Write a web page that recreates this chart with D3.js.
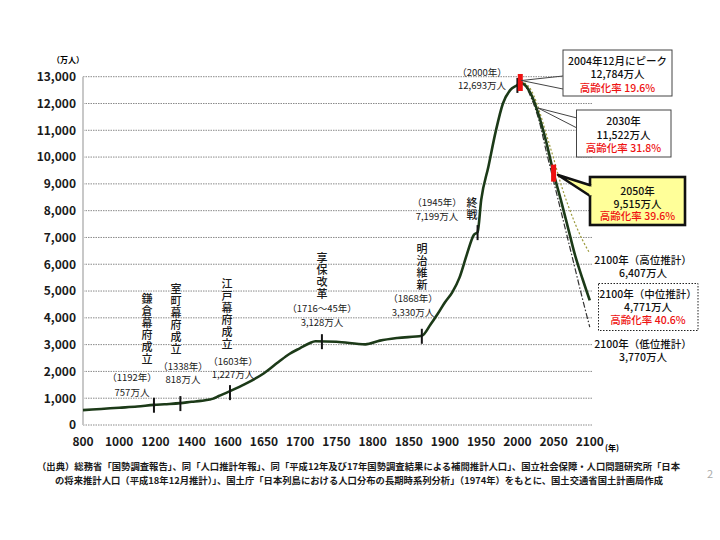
<!DOCTYPE html>
<html lang="ja">
<head>
<meta charset="utf-8">
<title>日本の人口の長期的推移</title>
<script src="https://cdn.jsdelivr.net/npm/d3@7"></script>
<style>
  body { margin: 0; background: #fff; }
  svg { display: block; font-family: "Noto Sans CJK JP", sans-serif; }
</style>
</head>
<body>
<div id="chart"></div>
<script>
// axis ticks (the x axis is compressed before 1600)
var xTickYears = [800, 1000, 1200, 1400, 1600, 1650, 1700, 1750, 1800, 1850, 1900, 1950, 2000, 2050, 2100];
var yTickValues = [0, 1000, 2000, 3000, 4000, 5000, 6000, 7000, 8000, 9000, 10000, 11000, 12000, 13000];

// historical population (万人)
var histYears  = [800, 900, 1000, 1100, 1192, 1250, 1338, 1400, 1450, 1500, 1515, 1550, 1600, 1620, 1650, 1670, 1685, 1700, 1712, 1721, 1750, 1790, 1810, 1834, 1868, 1880, 1890, 1900, 1910, 1920, 1930, 1940, 1945, 1950, 1960, 1970, 1980, 1990, 2000, 2004];
var histValues = [555, 600, 645, 690, 750, 775, 815, 865, 900, 950, 975, 1080, 1227, 1480, 1930, 2350, 2650, 2870, 3040, 3128, 3110, 3010, 3150, 3250, 3330, 3750, 4150, 4580, 4950, 5500, 6350, 7100, 7199, 8400, 9650, 10950, 12000, 12500, 12693, 12784];

// projections
var projYears  = [2004, 2010, 2020, 2030, 2040, 2050, 2060, 2070, 2080, 2090, 2100];
var midValues  = [12784, 12700, 12280, 11522, 10550, 9400, 8400, 7350, 6300, 5450, 4650];
var highValues = [12784, 12760, 12450, 11750, 10850, 9950, 9000, 8200, 7500, 6900, 6407];
var lowValues  = [12784, 12680, 12150, 11350, 10200, 9100, 8000, 6900, 5800, 4700, 3650];

// historical events
var eventYears  = [1192, 1338, 1603, 1730, 1868, 1945, 2000];
var eventValues = [757, 818, 1227, 3128, 3330, 7199, 12693];
var eventNames  = ["鎌倉幕府成立", "室町幕府成立", "江戸幕府成立", "享保改革", "明治維新", "終戦", ""];
var eventYearText = ["（1192年）", "（1338年）", "（1603年）", "（1716～45年）", "（1868年）", "（1945年）", "（2000年）"];
var eventPopText  = ["757万人", "818万人", "1,227万人", "3,128万人", "3,330万人", "7,199万人", "12,693万人"];

var markerYears = [2004, 2050];

var W = 720, H = 540;
var svg = d3.select("#chart").append("svg")
    .attr("width", W).attr("height", H);

var x = d3.scaleLinear()
    .domain(xTickYears)
    .range(xTickYears.map(function(d, i) { return 83 + i * 36.2; }));
var y = d3.scaleLinear().domain([0, 13000]).range([425, 76.7]);

// grid
svg.append("g").selectAll("line")
    .data(yTickValues)
    .enter().append("line")
    .attr("x1", 83).attr("x2", 593)
    .attr("y1", function(d) { return y(d); })
    .attr("y2", function(d) { return y(d); })
    .attr("stroke", "#8a8a8a")
    .attr("stroke-width", 1)
    .attr("stroke-dasharray", "1.5,1");

// left axis line
svg.append("line")
    .attr("x1", 83).attr("x2", 83)
    .attr("y1", y(13000)).attr("y2", y(0))
    .attr("stroke", "#c8c8c8").attr("stroke-width", 2);

// y labels
svg.append("g").selectAll("text")
    .data(yTickValues)
    .enter().append("text")
    .attr("x", 76)
    .attr("y", function(d) { return y(d); })
    .attr("dy", "0.36em")
    .attr("text-anchor", "end")
    .attr("font-size", 12)
    .attr("font-weight", 700)
    .attr("fill", "#1a1a1a")
    .text(function(d) { return d3.format(",")(d); });

svg.append("text").attr("x", 68).attr("y", 63)
    .attr("text-anchor", "middle").attr("font-size", 8).attr("font-weight", 700)
    .text("（万人）");

// x labels
svg.append("g").selectAll("text")
    .data(xTickYears)
    .enter().append("text")
    .attr("x", function(d) { return x(d); })
    .attr("y", 446)
    .attr("text-anchor", "middle")
    .attr("font-size", 12)
    .attr("font-weight", 700)
    .attr("fill", "#1a1a1a")
    .text(function(d) { return d; });

svg.append("text").attr("x", 612).attr("y", 451)
    .attr("text-anchor", "middle").attr("font-size", 8).attr("font-weight", 700)
    .text("(年)");

// lines
var line = d3.line()
    .x(function(d) { return x(d[0]); })
    .y(function(d) { return y(d[1]); })
    .curve(d3.curveMonotoneX);

svg.append("path")
    .datum(projYears.map(function(d, i) { return [d, highValues[i]]; }))
    .attr("d", line).attr("fill", "none")
    .attr("stroke", "#9c9a3c").attr("stroke-width", 1.2)
    .attr("stroke-dasharray", "2,2");

svg.append("path")
    .datum(projYears.map(function(d, i) { return [d, lowValues[i]]; }))
    .attr("d", line).attr("fill", "none")
    .attr("stroke", "#333").attr("stroke-width", 1.2)
    .attr("stroke-dasharray", "6,2,1.5,2");

svg.append("path")
    .datum(histYears.map(function(d, i) { return [d, histValues[i]]; })
        .concat(projYears.slice(1).map(function(d, i) { return [d, midValues[i + 1]]; })))
    .attr("d", line).attr("fill", "none")
    .attr("stroke", "#1c3a18").attr("stroke-width", 2.6);

// event ticks
svg.append("g").selectAll("line")
    .data(eventYears)
    .enter().append("line")
    .attr("x1", function(d) { return x(d); })
    .attr("x2", function(d) { return x(d); })
    .attr("y1", function(d, i) { return y(eventValues[i]) - 7; })
    .attr("y2", function(d, i) { return y(eventValues[i]) + 8; })
    .attr("stroke", "#151515").attr("stroke-width", 2);

// red markers
svg.append("g").selectAll("rect")
    .data(markerYears)
    .enter().append("rect")
    .attr("x", function(d) { return x(d) - 2.5; })
    .attr("y", function(d) { return y(midValues[projYears.indexOf(d)]) - 8.5; })
    .attr("width", 5).attr("height", 17)
    .attr("fill", "#ee1111");

// multi-line text block: one <text>, one <tspan> per line
function textLines(cx, ys, lines, colors, size, weight) {
    var t = svg.append("text")
        .attr("text-anchor", "middle").attr("font-size", size)
        .attr("font-weight", weight || 500);
    lines.forEach(function(s, k) {
        t.append("tspan").attr("x", cx).attr("y", ys[k]).attr("dy", "0.36em")
            .attr("fill", colors[k]).text(s);
    });
}

// event labels (layout picked to match the original slide)
var nameLayout = [[147, 293], [176, 283], [227, 278], [322, 252], [422, 243], [472, 197], null];
var noteLayout = [[132, 378, 393], [183, 367, 380], [233, 362, 375], [322, 309, 323], [413, 299, 313], [437, 203, 217], [482, 73, 86]];

eventNames.forEach(function(name, i) {
    if (nameLayout[i]) {
        // vertical writing, one text per name
        svg.append("text")
            .attr("x", nameLayout[i][0])
            .attr("y", nameLayout[i][1])
            .style("writing-mode", "vertical-rl")
            .style("letter-spacing", "1px")
            .attr("font-size", 11).attr("font-weight", 500)
            .attr("fill", "#1a1a1a")
            .text(name);
    }
    var nl = noteLayout[i];
    textLines(nl[0], [nl[1], nl[2]], [eventYearText[i], eventPopText[i]], ["#1a1a1a", "#1a1a1a"], 9.5, 400);
});

// peak
svg.append("path").attr("d", "M521.5,80.5 L563,76 M521.5,80.5 L563,89")
    .attr("stroke", "#444").attr("stroke-width", 1).attr("fill", "none");
svg.append("rect").attr("x", 563).attr("y", 50).attr("width", 109).attr("height", 46)
    .attr("fill", "#fff").attr("stroke", "#444").attr("stroke-width", 1);
textLines(617.5, [61, 74, 88], ["2004年12月にピーク", "12,784万人", "高齢化率 19.6%"], ["#111", "#111", "#ee1111"], 10.5);

// 2030
svg.append("path").attr("d", "M538,108 L577,118 M538,108 L577,128")
    .attr("stroke", "#444").attr("stroke-width", 1).attr("fill", "none");
svg.append("rect").attr("x", 576.5).attr("y", 110).attr("width", 94.5).attr("height", 47)
    .attr("fill", "#fff").attr("stroke", "#444").attr("stroke-width", 1);
textLines(623.5, [121, 135, 148], ["2030年", "11,522万人", "高齢化率 31.8%"], ["#111", "#111", "#ee1111"], 10.5);

// 2050 (yellow)
svg.append("rect").attr("x", 590).attr("y", 177).attr("width", 95).attr("height", 48)
    .attr("fill", "#ffff99").attr("stroke", "#111").attr("stroke-width", 2.6);
svg.append("path").attr("d", "M591,185.5 L558,175 L591,196.5")
    .attr("fill", "#ffff99").attr("stroke", "#111").attr("stroke-width", 2.6)
    .attr("stroke-linejoin", "round");
svg.append("rect").attr("x", 589.5).attr("y", 186.8).attr("width", 3).attr("height", 8.5)
    .attr("fill", "#ffff99");
textLines(637.5, [191.5, 204, 216.5], ["2050年", "9,515万人", "高齢化率 39.6%"], ["#111", "#111", "#ee1111"], 10.5);

// 2100 projections
textLines(643, [260, 273], ["2100年（高位推計）", "6,407万人"], ["#111", "#111"], 10.5);
svg.append("rect").attr("x", 598.5).attr("y", 283.5).attr("width", 99.5).attr("height", 47)
    .attr("fill", "#fff").attr("stroke", "#222").attr("stroke-width", 1)
    .attr("stroke-dasharray", "1.5,1.5");
textLines(648, [294.5, 307, 320], ["2100年（中位推計）", "4,771万人", "高齢化率 40.6%"], ["#111", "#111", "#ee1111"], 10.5);
textLines(643, [344, 357], ["2100年（低位推計）", "3,770万人"], ["#111", "#111"], 10.5);

// source note
svg.append("text").attr("x", 37).attr("y", 470)
    .attr("font-size", 9.4).attr("font-weight", 700).attr("fill", "#1a1a1a")
    .attr("textLength", 643).attr("lengthAdjust", "spacingAndGlyphs")
    .text("（出典）総務省「国勢調査報告」、同「人口推計年報」、同「平成12年及び17年国勢調査結果による補間推計人口」、国立社会保障・人口問題研究所「日本");
svg.append("text").attr("x", 55).attr("y", 484)
    .attr("font-size", 9.4).attr("font-weight", 700).attr("fill", "#1a1a1a")
    .attr("textLength", 608).attr("lengthAdjust", "spacingAndGlyphs")
    .text("の将来推計人口（平成18年12月推計）」、国土庁「日本列島における人口分布の長期時系列分析」（1974年）をもとに、国土交通省国土計画局作成");

svg.append("text").attr("x", 707).attr("y", 478)
    .attr("font-size", 11).attr("fill", "#aaa").text("2");
</script>
</body>
</html>
